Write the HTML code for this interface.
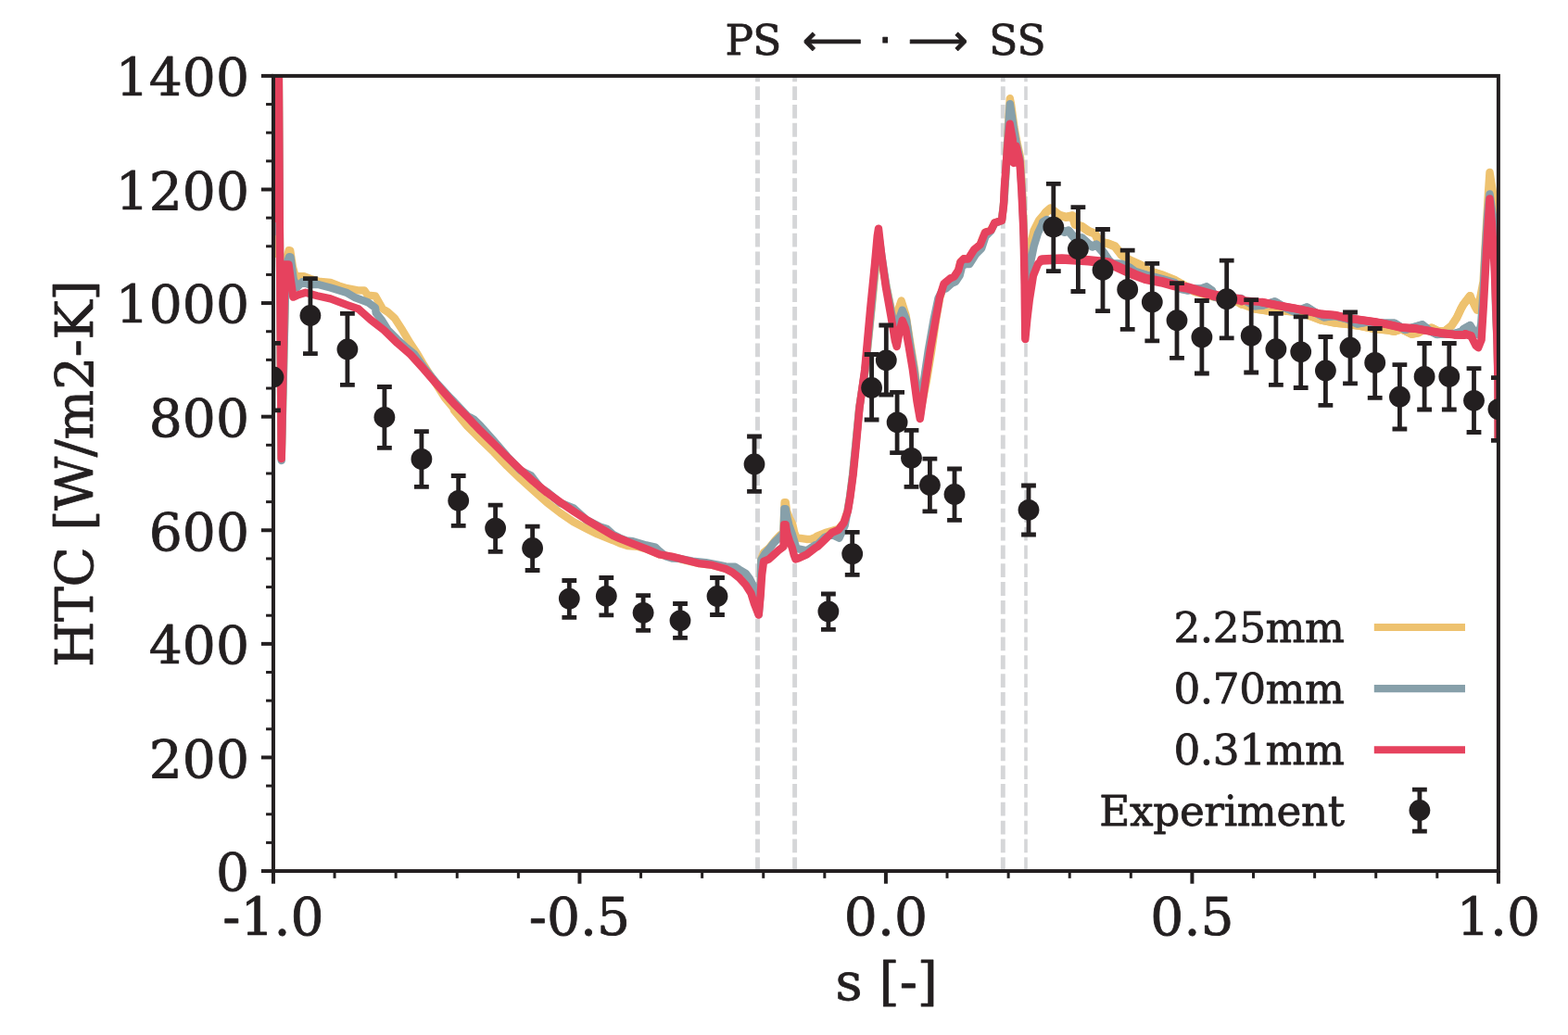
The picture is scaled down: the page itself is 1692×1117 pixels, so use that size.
<!DOCTYPE html>
<html lang="en"><head><meta charset="utf-8"><title>HTC vs s</title>
<style>html,body{margin:0;padding:0;background:#fff}body{width:1692px;height:1117px;overflow:hidden}svg{display:block}text{font-family:"DejaVu Serif","Liberation Serif",serif;fill:#231f20;stroke:#231f20;stroke-width:0.8px;stroke-linejoin:round}.sans{font-family:"DejaVu Sans","Liberation Sans",sans-serif;stroke-width:1px}</style></head><body>
<svg width="1692" height="1117" viewBox="0 0 1692 1117" role="img" aria-label="HTC versus s chart">
<rect width="1692" height="1117" fill="#fff"/>
<defs><clipPath id="ax"><rect x="294.95" y="81.9" width="1321.95" height="858.15"/></clipPath></defs>
<g clip-path="url(#ax)" fill="none" stroke="#d5d6d8" stroke-dasharray="14.8 5.01">
<line x1="817.5" y1="940.05" x2="817.5" y2="81.9" stroke-width="4.9"/>
<line x1="857.6" y1="940.05" x2="857.6" y2="81.9" stroke-width="4.9"/>
<line x1="1082.3" y1="940.05" x2="1082.3" y2="81.9" stroke-width="4.9"/>
<line x1="1107" y1="940.05" x2="1107" y2="81.9" stroke-width="3.6"/>
</g>
<g clip-path="url(#ax)" fill="none" stroke-width="8.4" stroke-linejoin="round" stroke-linecap="butt">
<path d="M294.95 278 L298.3 -20 L300.3 -20 L300.85 82 L301.7 230 L303.7 495 L308.45 289.07 L310.06 276.54 L311.67 270.19 L313.19 270.45 L315.88 288.18 L319.46 300.71 L322.59 298.2 L327.96 298.2 L335.12 300.89 L343.18 303.57 L356.6 305 L365.55 308.49 L374.5 311.18 L386.14 313.42 L393.3 313.5 L396.88 318.79 L404.93 319.32 L412.89 333.25 L418.62 336.83 L425.78 343.27 L434.37 356.59 L442.96 370.91 L450.12 381.65 L457.28 393.82 L464.44 405.28 L471.6 416.02 L480.19 429.62 L488.79 439.65 L490 442.91 L504.32 460.1 L518.64 474.13 L532.96 488.02 L547.28 503.06 L561.6 516.66 L575.92 529.55 L590.24 542.44 L604.56 553.47 L618.88 563.2 L633.2 570.65 L644.66 576.38 L661.85 583.25 L668.64 586.16 L677.23 589.02 L687.26 589.74 L697.28 592.32 L711.6 598.33 L725.92 601.2 L740.24 604.92 L754.56 608.07 L768.88 609.93 L783.2 613.8 L790.37 617.09 L797.53 621.96 L804.69 628.84 L810.41 637.43 L813.99 648.88 L818.29 661.77 L820.72 634.56 L821.34 603.28 L824.03 596.56 L830.3 591.19 L836.57 583.13 L841.49 577.76 L845.52 574.63 L846.6 542.12 L847.76 542.12 L848.92 551.34 L851.61 558.51 L855.19 565.67 L857.16 574.63 L859.4 580 L861.64 580.54 L870.59 581.97 L875.07 581.79 L880 579.82 L882.24 578.3 L890.3 575.07 L898.36 572.66 L904.8 570.88 L910.61 563.79 L914.64 551.22 L917.05 536.71 L920.12 512.53 L923.34 480.3 L927.3 440 L933.8 399 L940.6 332 L945.8 280 L948.5 262 L952 285 L956.5 309.5 L962 335 L966 350 L969 335 L972.6 324.5 L977.5 340 L982.5 372 L987 399 L991.5 432.7 L993 445 L1000 410.3 L1005.5 376.7 L1010 345.4 L1014 322 L1018.5 308 L1025.2 302 L1029.7 299 L1034.2 292 L1036.4 283 L1040 279.3 L1044.7 280 L1051.2 270 L1057.7 264 L1062.9 251 L1069.4 248.4 L1073.2 240.6 L1081 238 L1083.6 214.7 L1085.8 180 L1088 135 L1089.8 106.3 L1091.1 112.9 L1094.4 137.3 L1097.3 153 L1101.1 170.2 L1103 204.6 L1104.5 240 L1105.8 272 L1107 324 L1107.8 345 L1111 270 L1115.5 249 L1121.3 237.5 L1128.2 229.5 L1133.5 225 L1142.94 232.17 L1150.1 234.32 L1157.26 232.89 L1160.12 242.2 L1167.28 244.34 L1174.44 249.36 L1181.6 252.22 L1185.9 260.81 L1195.92 262.96 L1203.08 265.83 L1210.24 275.13 L1218.84 280.86 L1231.72 286.59 L1238.88 292.32 L1253.2 296.61 L1267.53 302.34 L1281.85 310.22 L1289.01 314.52 L1310.49 320.24 L1324.81 323.82 L1336.26 325.97 L1340 328.4 L1354.32 333.42 L1368.64 335.56 L1382.96 335.13 L1404.44 337.28 L1414.47 341.29 L1425.92 345.59 L1440.24 348.45 L1454.56 349.88 L1468.88 352.03 L1483.2 354.9 L1497.53 356.33 L1504.69 357.76 L1511.85 355.18 L1517.57 357.76 L1523.3 360.62 L1530.46 359.19 L1536.19 355.61 L1544.78 353.75 L1551.94 357.33 L1559.1 357.33 L1566.26 351.6 L1571.99 343.01 L1576.29 333.7 L1579.12 328.55 L1586.33 319.28 L1591.48 330.61 L1593.95 334.73 L1597.5 320 L1600.6 303.8 L1603.4 252.4 L1605.8 211 L1607.5 185.9 L1611.5 211.2 L1613.1 252.4 L1614.3 334.7 L1615.8 372 L1616.5 410 L1616.7 473" stroke="#eec26f"/>
<path d="M1128.2 229.5 L1133.5 225 L1142.94 232.17 L1150.1 234.32 L1157.26 232.89 L1160.12 242.2 L1167.28 244.34 L1174.44 249.36 L1181.6 252.22 L1185.9 260.81 L1195.92 262.96 L1203.08 265.83 L1210.24 275.13 L1218.84 280.86 L1231.72 286.59 L1238.88 292.32 L1253.2 296.61 L1267.53 302.34 L1281.85 310.22 L1289.01 314.52 L1310.49 320.24 L1324.81 323.82 L1336.26 325.97 L1340 328.4" stroke="#eec26f" stroke-width="9.3" stroke-linecap="round"/>
<path d="M1354.32 333.42 L1368.64 335.56 L1382.96 335.13 L1404.44 337.28 L1414.47 341.29 L1425.92 345.59 L1440.24 348.45 L1454.56 349.88 L1468.88 352.03 L1483.2 354.9 L1497.53 356.33 L1504.69 357.76 L1511.85 355.18 L1517.57 357.76 L1523.3 360.62 L1530.46 359.19 L1536.19 355.61 L1544.78 353.75 L1551.94 357.33 L1559.1 357.33 L1566.26 351.6 L1571.99 343.01 L1576.29 333.7 L1579.12 328.55 L1586.33 319.28" stroke="#eec26f" stroke-width="8.7" stroke-linecap="round"/>
<path d="M294.95 254 L298.3 -20 L300.3 -20 L300.85 82 L301.7 230 L303.7 497 L308.45 294.44 L310.06 282.81 L312.03 277.17 L313.46 277.44 L316.77 301.6 L320.8 309.92 L326.17 304.29 L333.33 306.97 L342.28 306.79 L356.6 310.55 L374.5 316.1 L383.45 321.29 L396.88 326.21 L404.93 332.03 L405.73 337.54 L411.46 344.85 L418.62 356.3 L428.64 366.33 L437.23 374.2 L447.26 382.37 L457.28 396.54 L464.44 405.14 L471.6 413.87 L485.92 429.62 L490 433.6 L504.32 448.93 L511.48 452.65 L518.64 459.81 L532.96 475.85 L547.28 492.6 L561.6 507.64 L573.06 513.37 L583.08 526.26 L590.24 530.7 L604.56 542.73 L618.88 548.45 L626.04 554.9 L633.2 561.34 L647.53 568.5 L654.69 570.65 L661.85 577.1 L668.64 580.58 L675.8 583.44 L682.96 584.16 L697.28 588.45 L707.31 590.6 L711.6 594.9 L718.76 600.48 L725.92 602.63 L733.08 602.77 L747.4 605.64 L761.72 607.07 L776.04 609.93 L783.2 611.36 L793.23 611.65 L797.53 614.52 L804.69 618.81 L808.98 624.54 L813.28 633.13 L816.86 648.88 L818.72 663.2 L820.44 641.72 L821.34 604.18 L825.82 597.01 L830.3 592.09 L834.77 586.27 L840.15 580.89 L845.52 575.52 L846.33 549.28 L847.76 549.28 L849.1 557.61 L851.34 566.57 L854.48 575.52 L857.16 584.48 L859.4 591.64 L861.64 592.36 L870.59 594.33 L880 588.06 L882.24 587.65 L890.3 579.59 L897.55 577.01 L905.61 580.55 L911.57 567.34 L914.64 551.22 L917.05 536.71 L920.12 512.53 L923.34 480.3 L927.3 440 L933.6 399 L940.3 332 L945.5 275 L948.5 256 L952 280 L956.5 309.5 L962 338 L967 360 L970 345 L973.7 334.6 L978 345 L982 372 L986.5 399 L991 432.7 L993 447 L997 410 L1002 376.7 L1007.5 345.4 L1012.5 322 L1018 311 L1020.5 311.5 L1026.7 306.1 L1031.2 303.9 L1035.7 297.1 L1037.9 288.2 L1041.5 284.8 L1046.2 285.1 L1052.7 274.7 L1059.2 268 L1063.5 255 L1069.4 249 L1073.2 241 L1081 238 L1083.6 214.7 L1085.8 180 L1088 140 L1089.8 112.2 L1090.8 118.7 L1093.7 137.3 L1096.6 154.5 L1100.4 171.7 L1102.7 204.6 L1104.2 240 L1105.3 272 L1106.6 324 L1107.4 350 L1111.2 287.3 L1115.6 265.8 L1120 251.5 L1125.5 240 L1129.5 237.5 L1138.64 245.78 L1148.67 250.36 L1152.96 248.93 L1160.12 257.52 L1167.28 256.8 L1174.44 263.25 L1178.74 266.11 L1183.03 263.96 L1190.19 271.84 L1195.92 280.43 L1200.22 284.73 L1210.24 285.16 L1218.84 289.02 L1224.56 293.32 L1238.88 297.62 L1253.2 301.2 L1267.53 305.49 L1274.69 311.65 L1281.85 313.08 L1289.01 311.94 L1296.17 311.94 L1301.89 309.79 L1307.62 313.8 L1310.49 320.24 L1324.81 322.39 L1339.13 322.39 L1340 322.96 L1354.32 330.12 L1362.91 329.41 L1375.8 325.54 L1387.26 332.27 L1397.28 336.57 L1410.17 331.55 L1421.63 338.71 L1428.79 342.29 L1440.24 340.86 L1454.56 344.44 L1464.59 349.45 L1476.04 347.31 L1490.37 348.74 L1504.69 348.74 L1516.14 355.9 L1526.17 353.03 L1534.76 350.46 L1543.35 357.33 L1550.51 360.91 L1561.97 360.19 L1569.13 360.19 L1576.29 358.05 L1580.01 358.05 L1579.12 355.32 L1586.33 351.2 L1592.51 359.44 L1595.6 361.5 L1598.2 350 L1600.7 314.1 L1602.6 273 L1605.2 231.8 L1607.5 209.5 L1610.8 231.8 L1612.7 273 L1614.1 334.7 L1615.7 372 L1616.5 410 L1616.7 473" stroke="#87a0aa"/>
<path d="M1125.5 240 L1129.5 237.5 L1138.64 245.78 L1148.67 250.36 L1152.96 248.93 L1160.12 257.52 L1167.28 256.8 L1174.44 263.25 L1178.74 266.11 L1183.03 263.96 L1190.19 271.84 L1195.92 280.43 L1200.22 284.73 L1210.24 285.16 L1218.84 289.02 L1224.56 293.32 L1238.88 297.62 L1253.2 301.2 L1267.53 305.49 L1274.69 311.65 L1281.85 313.08 L1289.01 311.94 L1296.17 311.94 L1301.89 309.79 L1307.62 313.8 L1310.49 320.24 L1324.81 322.39 L1339.13 322.39 L1340 322.96" stroke="#87a0aa" stroke-width="9.3" stroke-linecap="round"/>
<path d="M1354.32 330.12 L1362.91 329.41 L1375.8 325.54 L1387.26 332.27 L1397.28 336.57 L1410.17 331.55 L1421.63 338.71 L1428.79 342.29 L1440.24 340.86 L1454.56 344.44 L1464.59 349.45 L1476.04 347.31 L1490.37 348.74 L1504.69 348.74 L1516.14 355.9 L1526.17 353.03 L1534.76 350.46 L1543.35 357.33 L1550.51 360.91 L1561.97 360.19 L1569.13 360.19 L1576.29 358.05 L1580.01 358.05 L1579.12 355.32 L1586.33 351.2" stroke="#87a0aa" stroke-width="8.7" stroke-linecap="round"/>
<path d="M294.95 240 L298.3 -20 L300.3 -20 L300.85 82 L301.7 230 L303.7 495 L307.46 285.49 L311.49 285.49 L316.33 320.66 L320.8 318.61 L329.75 315.74 L342.28 319.23 L356.6 322.37 L374.5 329.08 L387.03 333.55 L400 345.1 L414.3 356.2 L428.6 370.2 L443 382.7 L457.3 398.4 L471.6 414.9 L485.9 431.1 L490 435.75 L504.32 450.07 L518.64 465.11 L532.96 479 L547.28 493.32 L561.6 506.93 L575.92 519.81 L590.24 531.7 L604.56 542.01 L618.88 551.75 L633.2 561.06 L647.53 569.65 L661.85 578.24 L668.64 581.15 L682.96 586.88 L697.28 592.32 L711.6 598.33 L725.92 600.91 L740.24 604.49 L754.56 608.07 L768.88 609.93 L783.2 614.09 L790.37 617.67 L797.53 623.39 L804.69 631.27 L810.41 640.29 L813.99 651.75 L818.72 663.63 L820.72 641.72 L822.16 620.24 L824.03 605.97 L829.4 603.73 L834.77 598.8 L840.15 593.88 L845.52 589.85 L846.15 566.3 L847.76 566.3 L849.28 575.52 L851.79 583.58 L854.65 590.74 L856.71 598.8 L858.51 603.46 L861.64 602.56 L870.59 598.36 L880 591.19 L882.24 589.9 L890.3 582.17 L897.55 574.91 L904.8 571.85 L910.61 564.11 L914.96 551.22 L917.38 536.71 L920.6 512.53 L923.82 480.3 L927.5 440 L933.2 399 L939.3 332 L944 285 L946.7 255 L948 246.6 L951.3 276 L955.8 309.5 L961.4 340.9 L965.9 367.8 L967.7 374 L970.4 358.8 L973.7 345.8 L977.1 354.3 L980.4 372.2 L984.9 399.1 L989.4 432.7 L992.8 452 L998.8 410.3 L1004 376.7 L1009.5 345.4 L1014 320.7 L1018.5 306.2 L1025.2 300.6 L1029.7 298.4 L1034.2 291.6 L1036.4 282.7 L1040 279.3 L1044.7 279.6 L1051.2 269.2 L1057.7 264 L1062.9 251 L1069.4 248.4 L1073.2 240.6 L1081 238 L1083 222 L1083.7 204.6 L1085.8 176 L1087.5 154.5 L1089.7 133.7 L1092.7 150.2 L1093.8 176 L1096.4 157.3 L1100.4 174.5 L1102.3 204.6 L1103.7 233.3 L1104.6 254.7 L1105.6 306.2 L1106.3 366 L1108.3 345 L1110.8 323.8 L1114.9 297.8 L1120 285 L1124.32 280.43 L1145.8 279.43 L1174.44 281.29 L1195.92 283.44 L1210.24 290.17 L1224.56 296.61 L1236.02 300.91 L1253.2 304.2 L1267.53 308.07 L1281.85 310.65 L1296.17 314.8 L1310.49 318.81 L1324.81 321.68 L1339.13 323.39 L1340 324.11 L1361.48 326.11 L1382.96 330.41 L1397.28 332.99 L1411.6 335.85 L1425.92 339 L1440.24 340.15 L1454.56 343.3 L1468.88 345.44 L1483.2 347.31 L1497.53 350.17 L1511.85 353.32 L1526.17 354.47 L1540.49 356.9 L1554.81 359.48 L1569.13 361.2 L1580.01 361.63 L1581.18 360.47 L1587.36 362.53 L1592.51 372.82 L1595.18 375.29 L1598.6 366.7 L1601 327.4 L1603.1 288 L1605.2 250 L1607.5 214.5 L1609.8 240 L1611.3 265 L1612.6 288 L1614.1 327.4 L1615.5 366.7 L1616.4 410 L1616.7 473" stroke="#e6425e"/>
<path d="M1124.32 280.43 L1145.8 279.43 L1174.44 281.29 L1195.92 283.44 L1210.24 290.17 L1224.56 296.61 L1236.02 300.91 L1253.2 304.2 L1267.53 308.07 L1281.85 310.65 L1296.17 314.8 L1310.49 318.81 L1324.81 321.68 L1339.13 323.39 L1340 324.11" stroke="#e6425e" stroke-width="10.6" stroke-linecap="round"/>
<path d="M1361.48 326.11 L1382.96 330.41 L1397.28 332.99 L1411.6 335.85 L1425.92 339 L1440.24 340.15 L1454.56 343.3 L1468.88 345.44 L1483.2 347.31 L1497.53 350.17 L1511.85 353.32 L1526.17 354.47 L1540.49 356.9 L1554.81 359.48 L1569.13 361.2 L1580.01 361.63 L1581.18 360.47 L1587.36 362.53" stroke="#e6425e" stroke-width="8.9" stroke-linecap="round"/>
</g>
<g clip-path="url(#ax)" stroke="#231f20" stroke-width="4.8" fill="#231f20">
<path d="M294.95 370.3 V442.8 M287.05 370.3 h15.8 M287.05 442.8 h15.8" fill="none"/>
<circle cx="294.95" cy="407" r="11.4" stroke="none"/>
<path d="M334.9 300.7 V381.6 M327 300.7 h15.8 M327 381.6 h15.8" fill="none"/>
<circle cx="334.9" cy="340.5" r="11.4" stroke="none"/>
<path d="M374.9 338.4 V415.4 M367 338.4 h15.8 M367 415.4 h15.8" fill="none"/>
<circle cx="374.9" cy="377" r="11.4" stroke="none"/>
<path d="M414.9 417.5 V483.4 M407 417.5 h15.8 M407 483.4 h15.8" fill="none"/>
<circle cx="414.9" cy="450.3" r="11.4" stroke="none"/>
<path d="M454.9 465.6 V525.4 M447 465.6 h15.8 M447 525.4 h15.8" fill="none"/>
<circle cx="454.9" cy="495.4" r="11.4" stroke="none"/>
<path d="M494.7 513.5 V567.3 M486.8 513.5 h15.8 M486.8 567.3 h15.8" fill="none"/>
<circle cx="494.7" cy="540.3" r="11.4" stroke="none"/>
<path d="M534.6 545.1 V595.4 M526.7 545.1 h15.8 M526.7 595.4 h15.8" fill="none"/>
<circle cx="534.6" cy="570.1" r="11.4" stroke="none"/>
<path d="M574.6 568.1 V615.5 M566.7 568.1 h15.8 M566.7 615.5 h15.8" fill="none"/>
<circle cx="574.6" cy="591.5" r="11.4" stroke="none"/>
<path d="M614.3 626.5 V666.4 M606.4 626.5 h15.8 M606.4 666.4 h15.8" fill="none"/>
<circle cx="614.3" cy="646.1" r="11.4" stroke="none"/>
<path d="M654.3 623.5 V663.8 M646.4 623.5 h15.8 M646.4 663.8 h15.8" fill="none"/>
<circle cx="654.3" cy="643.3" r="11.4" stroke="none"/>
<path d="M694.1 642.6 V680.4 M686.2 642.6 h15.8 M686.2 680.4 h15.8" fill="none"/>
<circle cx="694.1" cy="661.3" r="11.4" stroke="none"/>
<path d="M734 651.5 V688.4 M726.1 651.5 h15.8 M726.1 688.4 h15.8" fill="none"/>
<circle cx="734" cy="669.8" r="11.4" stroke="none"/>
<path d="M774 623.5 V663.5 M766.1 623.5 h15.8 M766.1 663.5 h15.8" fill="none"/>
<circle cx="774" cy="643.5" r="11.4" stroke="none"/>
<path d="M814 471 V530.3 M806.1 471 h15.8 M806.1 530.3 h15.8" fill="none"/>
<circle cx="814" cy="501" r="11.4" stroke="none"/>
<path d="M893.9 641 V679.4 M886 641 h15.8 M886 679.4 h15.8" fill="none"/>
<circle cx="893.9" cy="659.9" r="11.4" stroke="none"/>
<path d="M919.7 574.3 V620.3 M911.8 574.3 h15.8 M911.8 620.3 h15.8" fill="none"/>
<circle cx="919.7" cy="597.7" r="11.4" stroke="none"/>
<path d="M940.6 382.5 V453 M932.7 382.5 h15.8 M932.7 453 h15.8" fill="none"/>
<circle cx="940.6" cy="418.5" r="11.4" stroke="none"/>
<path d="M956.3 351 V426 M948.4 351 h15.8 M948.4 426 h15.8" fill="none"/>
<circle cx="956.3" cy="388.8" r="11.4" stroke="none"/>
<path d="M968.1 423.3 V488.7 M960.2 423.3 h15.8 M960.2 488.7 h15.8" fill="none"/>
<circle cx="968.1" cy="455.8" r="11.4" stroke="none"/>
<path d="M983.5 464.3 V525.3 M975.6 464.3 h15.8 M975.6 525.3 h15.8" fill="none"/>
<circle cx="983.5" cy="494.3" r="11.4" stroke="none"/>
<path d="M1003.4 495.2 V551.8 M995.5 495.2 h15.8 M995.5 551.8 h15.8" fill="none"/>
<circle cx="1003.4" cy="523.5" r="11.4" stroke="none"/>
<path d="M1030 506 V561.3 M1022.1 506 h15.8 M1022.1 561.3 h15.8" fill="none"/>
<circle cx="1030" cy="533.5" r="11.4" stroke="none"/>
<path d="M1110 524 V577 M1102.1 524 h15.8 M1102.1 577 h15.8" fill="none"/>
<circle cx="1110" cy="550.3" r="11.4" stroke="none"/>
<path d="M1136.8 198.3 V292.6 M1128.9 198.3 h15.8 M1128.9 292.6 h15.8" fill="none"/>
<circle cx="1136.8" cy="245.1" r="11.4" stroke="none"/>
<path d="M1163.4 223.6 V314.5 M1155.5 223.6 h15.8 M1155.5 314.5 h15.8" fill="none"/>
<circle cx="1163.4" cy="268.7" r="11.4" stroke="none"/>
<path d="M1190 247.5 V335.7 M1182.1 247.5 h15.8 M1182.1 335.7 h15.8" fill="none"/>
<circle cx="1190" cy="291.2" r="11.4" stroke="none"/>
<path d="M1216.7 270.1 V355.3 M1208.8 270.1 h15.8 M1208.8 355.3 h15.8" fill="none"/>
<circle cx="1216.7" cy="312.4" r="11.4" stroke="none"/>
<path d="M1243.3 284.4 V367.8 M1235.4 284.4 h15.8 M1235.4 367.8 h15.8" fill="none"/>
<circle cx="1243.3" cy="326" r="11.4" stroke="none"/>
<path d="M1270 305.6 V386.3 M1262.1 305.6 h15.8 M1262.1 386.3 h15.8" fill="none"/>
<circle cx="1270" cy="345.7" r="11.4" stroke="none"/>
<path d="M1296.9 324.5 V403 M1289 324.5 h15.8 M1289 403 h15.8" fill="none"/>
<circle cx="1296.9" cy="363.9" r="11.4" stroke="none"/>
<path d="M1323.7 281.1 V364.9 M1315.8 281.1 h15.8 M1315.8 364.9 h15.8" fill="none"/>
<circle cx="1323.7" cy="322.7" r="11.4" stroke="none"/>
<path d="M1350.2 323.7 V402 M1342.3 323.7 h15.8 M1342.3 402 h15.8" fill="none"/>
<circle cx="1350.2" cy="362.3" r="11.4" stroke="none"/>
<path d="M1376.9 338.4 V415.3 M1369 338.4 h15.8 M1369 415.3 h15.8" fill="none"/>
<circle cx="1376.9" cy="376.7" r="11.4" stroke="none"/>
<path d="M1403.7 341.9 V418.5 M1395.8 341.9 h15.8 M1395.8 418.5 h15.8" fill="none"/>
<circle cx="1403.7" cy="379.8" r="11.4" stroke="none"/>
<path d="M1430.4 363.5 V437.3 M1422.5 363.5 h15.8 M1422.5 437.3 h15.8" fill="none"/>
<circle cx="1430.4" cy="400" r="11.4" stroke="none"/>
<path d="M1457 337 V413.9 M1449.1 337 h15.8 M1449.1 413.9 h15.8" fill="none"/>
<circle cx="1457" cy="375.2" r="11.4" stroke="none"/>
<path d="M1483.7 354.5 V429.4 M1475.8 354.5 h15.8 M1475.8 429.4 h15.8" fill="none"/>
<circle cx="1483.7" cy="391.4" r="11.4" stroke="none"/>
<path d="M1510.4 393.6 V463 M1502.5 393.6 h15.8 M1502.5 463 h15.8" fill="none"/>
<circle cx="1510.4" cy="428.2" r="11.4" stroke="none"/>
<path d="M1537.1 370.5 V442 M1529.2 370.5 h15.8 M1529.2 442 h15.8" fill="none"/>
<circle cx="1537.1" cy="406.4" r="11.4" stroke="none"/>
<path d="M1563.8 370.5 V442 M1555.9 370.5 h15.8 M1555.9 442 h15.8" fill="none"/>
<circle cx="1563.8" cy="406.4" r="11.4" stroke="none"/>
<path d="M1590.5 397.6 V466.5 M1582.6 397.6 h15.8 M1582.6 466.5 h15.8" fill="none"/>
<circle cx="1590.5" cy="432.3" r="11.4" stroke="none"/>
<path d="M1616.9 407.6 V475.3 M1609 407.6 h15.8 M1609 475.3 h15.8" fill="none"/>
<circle cx="1616.9" cy="441.6" r="11.4" stroke="none"/>
</g>
<g stroke="#231f20" fill="none">
<line x1="281.9" y1="940.05" x2="294.95" y2="940.05" stroke-width="4"/>
<line x1="287.05" y1="909.4" x2="294.95" y2="909.4" stroke-width="3"/>
<line x1="287.05" y1="878.75" x2="294.95" y2="878.75" stroke-width="3"/>
<line x1="287.05" y1="848.11" x2="294.95" y2="848.11" stroke-width="3"/>
<line x1="281.9" y1="817.46" x2="294.95" y2="817.46" stroke-width="4"/>
<line x1="287.05" y1="786.81" x2="294.95" y2="786.81" stroke-width="3"/>
<line x1="287.05" y1="756.16" x2="294.95" y2="756.16" stroke-width="3"/>
<line x1="287.05" y1="725.51" x2="294.95" y2="725.51" stroke-width="3"/>
<line x1="281.9" y1="694.86" x2="294.95" y2="694.86" stroke-width="4"/>
<line x1="287.05" y1="664.22" x2="294.95" y2="664.22" stroke-width="3"/>
<line x1="287.05" y1="633.57" x2="294.95" y2="633.57" stroke-width="3"/>
<line x1="287.05" y1="602.92" x2="294.95" y2="602.92" stroke-width="3"/>
<line x1="281.9" y1="572.27" x2="294.95" y2="572.27" stroke-width="4"/>
<line x1="287.05" y1="541.62" x2="294.95" y2="541.62" stroke-width="3"/>
<line x1="287.05" y1="510.97" x2="294.95" y2="510.97" stroke-width="3"/>
<line x1="287.05" y1="480.33" x2="294.95" y2="480.33" stroke-width="3"/>
<line x1="281.9" y1="449.68" x2="294.95" y2="449.68" stroke-width="4"/>
<line x1="287.05" y1="419.03" x2="294.95" y2="419.03" stroke-width="3"/>
<line x1="287.05" y1="388.38" x2="294.95" y2="388.38" stroke-width="3"/>
<line x1="287.05" y1="357.73" x2="294.95" y2="357.73" stroke-width="3"/>
<line x1="281.9" y1="327.09" x2="294.95" y2="327.09" stroke-width="4"/>
<line x1="287.05" y1="296.44" x2="294.95" y2="296.44" stroke-width="3"/>
<line x1="287.05" y1="265.79" x2="294.95" y2="265.79" stroke-width="3"/>
<line x1="287.05" y1="235.14" x2="294.95" y2="235.14" stroke-width="3"/>
<line x1="281.9" y1="204.49" x2="294.95" y2="204.49" stroke-width="4"/>
<line x1="287.05" y1="173.84" x2="294.95" y2="173.84" stroke-width="3"/>
<line x1="287.05" y1="143.2" x2="294.95" y2="143.2" stroke-width="3"/>
<line x1="287.05" y1="112.55" x2="294.95" y2="112.55" stroke-width="3"/>
<line x1="281.9" y1="81.9" x2="294.95" y2="81.9" stroke-width="4"/>
<line x1="294.95" y1="940.05" x2="294.95" y2="953.7" stroke-width="4"/>
<line x1="361.05" y1="940.05" x2="361.05" y2="947.85" stroke-width="3"/>
<line x1="427.14" y1="940.05" x2="427.14" y2="947.85" stroke-width="3"/>
<line x1="493.24" y1="940.05" x2="493.24" y2="947.85" stroke-width="3"/>
<line x1="559.34" y1="940.05" x2="559.34" y2="947.85" stroke-width="3"/>
<line x1="625.44" y1="940.05" x2="625.44" y2="953.7" stroke-width="4"/>
<line x1="691.54" y1="940.05" x2="691.54" y2="947.85" stroke-width="3"/>
<line x1="757.63" y1="940.05" x2="757.63" y2="947.85" stroke-width="3"/>
<line x1="823.73" y1="940.05" x2="823.73" y2="947.85" stroke-width="3"/>
<line x1="889.83" y1="940.05" x2="889.83" y2="947.85" stroke-width="3"/>
<line x1="955.92" y1="940.05" x2="955.92" y2="953.7" stroke-width="4"/>
<line x1="1022.02" y1="940.05" x2="1022.02" y2="947.85" stroke-width="3"/>
<line x1="1088.12" y1="940.05" x2="1088.12" y2="947.85" stroke-width="3"/>
<line x1="1154.22" y1="940.05" x2="1154.22" y2="947.85" stroke-width="3"/>
<line x1="1220.32" y1="940.05" x2="1220.32" y2="947.85" stroke-width="3"/>
<line x1="1286.41" y1="940.05" x2="1286.41" y2="953.7" stroke-width="4"/>
<line x1="1352.51" y1="940.05" x2="1352.51" y2="947.85" stroke-width="3"/>
<line x1="1418.61" y1="940.05" x2="1418.61" y2="947.85" stroke-width="3"/>
<line x1="1484.71" y1="940.05" x2="1484.71" y2="947.85" stroke-width="3"/>
<line x1="1550.8" y1="940.05" x2="1550.8" y2="947.85" stroke-width="3"/>
<line x1="1616.9" y1="940.05" x2="1616.9" y2="953.7" stroke-width="4"/>
<rect x="294.95" y="81.9" width="1321.95" height="858.15" stroke-width="4.0" stroke-linejoin="miter"/>
</g>
<g font-size="56.7">
<text x="269" y="961.35" text-anchor="end">0</text>
<text x="269" y="838.76" text-anchor="end">200</text>
<text x="269" y="716.16" text-anchor="end">400</text>
<text x="269" y="593.57" text-anchor="end">600</text>
<text x="269" y="470.98" text-anchor="end">800</text>
<text x="269" y="348.39" text-anchor="end">1000</text>
<text x="269" y="225.79" text-anchor="end">1200</text>
<text x="269" y="103.2" text-anchor="end">1400</text>
<text x="294.95" y="1008.5" text-anchor="middle">-1.0</text>
<text x="625.44" y="1008.5" text-anchor="middle">-0.5</text>
<text x="955.92" y="1008.5" text-anchor="middle">0.0</text>
<text x="1286.41" y="1008.5" text-anchor="middle">0.5</text>
<text x="1616.9" y="1008.5" text-anchor="middle">1.0</text>
<text x="956.73" y="1079" text-anchor="middle">s [-]</text>
<text transform="translate(99.9 511.4) rotate(-90)" text-anchor="middle" letter-spacing="-0.37">HTC [W/m2-K]</text>
</g>
<g font-size="45.33">
<text x="782.6" y="58.8" letter-spacing="-0.9">PS</text>
<text x="866" y="58.6" class="sans">⟵</text>
<text x="948" y="58.6" class="sans">·</text>
<text x="979.6" y="58.6" class="sans">⟶</text>
<text x="1128.6" y="58.8" text-anchor="end">SS</text>
<text x="1450.6" y="693" text-anchor="end" letter-spacing="-0.46">2.25mm</text>
<text x="1450.6" y="759.1" text-anchor="end" letter-spacing="-0.46">0.70mm</text>
<text x="1450.6" y="825.2" text-anchor="end" letter-spacing="-0.46">0.31mm</text>
<text x="1450.6" y="891.3" text-anchor="end" letter-spacing="-0.36">Experiment</text>
</g>
<g fill="none" stroke-width="8.1">
<line x1="1482.8" y1="677" x2="1581" y2="677" stroke="#eec26f"/>
<line x1="1482.8" y1="743.1" x2="1581" y2="743.1" stroke="#87a0aa"/>
<line x1="1482.8" y1="809.2" x2="1581" y2="809.2" stroke="#e6425e"/>
</g>
<g stroke="#231f20" stroke-width="4.8" fill="#231f20"><path d="M1531.9 852.1 V897.2 M1524 852.1 h15.8 M1524 897.2 h15.8" fill="none"/><circle cx="1531.9" cy="874.5" r="11.4" stroke="none"/></g>
</svg></body></html>
